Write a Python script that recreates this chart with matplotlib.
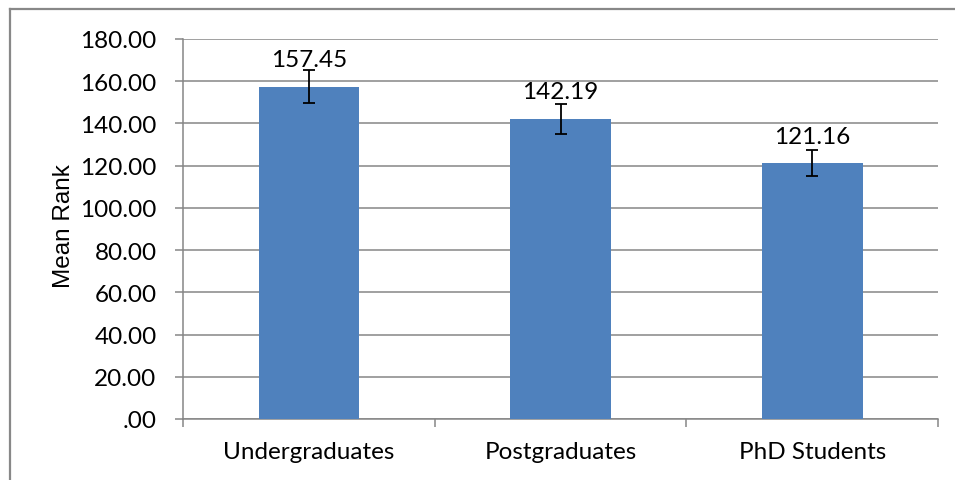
import matplotlib
matplotlib.use('Agg')
import matplotlib.pyplot as plt
from matplotlib.lines import Line2D
from matplotlib.ticker import FuncFormatter, FixedLocator

groups = ['Undergraduates', 'Postgraduates', 'PhD Students']
mean_rank = [157.45, 142.19, 121.16]
err = [7.9, 7.1, 6.1]

bar_color = '#4F81BD'
grid_color = '#868686'
fs = 17.5

plt.rcParams['font.family'] = ['Lato', 'DejaVu Sans']

fig = plt.figure(figsize=(9.55, 4.81), dpi=100)
ax = fig.add_axes([183/955, 61/481, 755/955, 380/481])

x = list(range(len(groups)))
ax.bar(x, mean_rank, width=0.40, color=bar_color, zorder=3)
ax.errorbar(x, mean_rank, yerr=err, fmt='none', ecolor='black',
            elinewidth=1.3, capsize=4, capthick=1.3, zorder=4)

for xi, v in zip(x, mean_rank):
    ax.annotate('%.2f' % v, (xi, v), xytext=(0, 19.5), textcoords='offset points',
                ha='center', va='center', fontsize=fs, zorder=5)

ax.set_xlim(-0.5, 2.5)
ax.set_ylim(0, 180)
ax.set_yticks(range(0, 181, 20))
ax.yaxis.set_major_formatter(FuncFormatter(lambda v, p: '.00' if v == 0 else '%.2f' % v))
ax.yaxis.grid(True, color=grid_color, linewidth=1.1, zorder=0)

ax.set_xticks(x)
ax.set_xticklabels(groups)
ax.xaxis.set_minor_locator(FixedLocator([-0.5, 0.5, 1.5, 2.5]))
ax.tick_params(axis='x', which='major', length=0, pad=16, labelsize=fs)
ax.tick_params(axis='x', which='minor', length=6, width=1.1, color=grid_color)
ax.tick_params(axis='y', length=6, width=1.1, color=grid_color, pad=13, labelsize=fs)

for s in ['top', 'right']:
    ax.spines[s].set_visible(False)
for s in ['left', 'bottom']:
    ax.spines[s].set_color(grid_color)
    ax.spines[s].set_linewidth(1.1)

ax.set_ylabel('Mean Rank', fontsize=17.5, family=['Liberation Sans', 'DejaVu Sans'])
ax.yaxis.set_label_coords(-0.143, 0.51)

# chart border (only left and top edges are visible)
bx = 9.5 / 955
by = 1 - 9.5 / 481
fig.add_artist(Line2D([bx, bx], [0, by], transform=fig.transFigure, color='#888888', linewidth=1.6))
fig.add_artist(Line2D([bx, 1], [by, by], transform=fig.transFigure, color='#888888', linewidth=1.6))

fig.savefig('out.png', dpi=100)
